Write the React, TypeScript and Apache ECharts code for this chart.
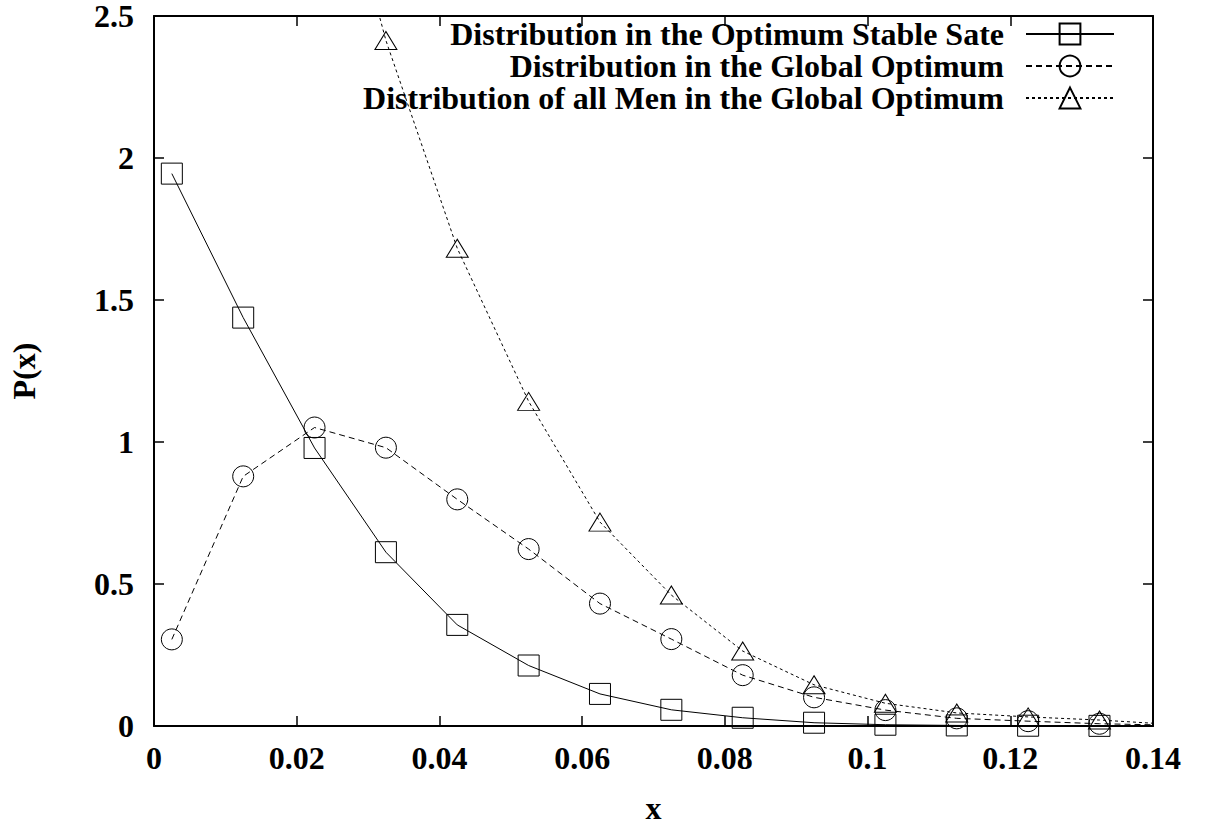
import React, { useEffect, useRef } from "react";
import * as echarts from "echarts";

// x positions of the data points (bin centres)
const xPoints = [0.0025, 0.0125, 0.0225, 0.0325, 0.0425, 0.0525, 0.0625, 0.0725, 0.0825, 0.0925, 0.1025, 0.1125, 0.1225, 0.1325, 0.1425];

const stableSate = [1.945, 1.438, 0.979, 0.612, 0.356, 0.213, 0.113, 0.057, 0.029, 0.0115, 0.0045, 0.002, 0.001, 0.0005, 0.0002];
const globalOptimum = [0.305, 0.879, 1.051, 0.98, 0.798, 0.623, 0.431, 0.306, 0.179, 0.101, 0.056, 0.027, 0.017, 0.008, 0.003];
const allMenGlobal = [null, null, 3.35, 2.414, 1.682, 1.143, 0.718, 0.461, 0.264, 0.145, 0.08, 0.046, 0.032, 0.021, 0.006];

const seriesNames = [
  "Distribution in the Optimum Stable Sate",
  "Distribution in the Global Optimum",
  "Distribution of all Men in the Global Optimum",
];

const xTicks = { min: 0, max: 0.14, interval: 0.02 };
const yTicks = { min: 0, max: 2.5, interval: 0.5 };

const FONT = "'Liberation Serif', 'Times New Roman', serif";

function pairs(vals: (number | null)[]) {
  return xPoints.map((x, i) => [x, vals[i]]);
}

export default function App() {
  const ref = useRef<HTMLDivElement>(null);
  useEffect(() => {
    if (!ref.current) return;
    const chart = echarts.init(ref.current, null, { renderer: "svg" });
    const axisLine = { show: true, onZero: false, lineStyle: { color: "#000", width: 2 } };
    const axisTick = { show: true, inside: true, length: 10, lineStyle: { color: "#000", width: 1.5 } };
    const labelStyle = { color: "#000", fontFamily: FONT, fontWeight: "bold" as const, fontSize: 32 };
    const markerStyle = { color: "rgba(255,255,255,0)", borderColor: "#000", borderWidth: 1 };
    chart.setOption({
      animation: false,
      backgroundColor: "#fff",
      grid: { left: 152.7, right: 53, top: 10, bottom: 101, containLabel: false },
      legend: {
        orient: "vertical",
        right: 86,
        top: 13,
        align: "right",
        itemGap: 0,
        itemWidth: 88,
        itemHeight: 26,
        selectedMode: false,
        textStyle: { ...labelStyle, lineHeight: 31, padding: [0, 17, 0, 0] },
        data: seriesNames,
      },
      xAxis: [
        {
          type: "value",
          ...xTicks,
          position: "bottom",
          name: "x",
          nameLocation: "middle",
          nameGap: 66,
          nameTextStyle: labelStyle,
          axisLine,
          axisTick,
          axisLabel: { ...labelStyle, margin: 16 },
          splitLine: { show: false },
        },
        {
          type: "value",
          ...xTicks,
          position: "top",
          axisLine,
          axisTick,
          axisLabel: { show: false },
          splitLine: { show: false },
        },
      ],
      yAxis: [
        {
          type: "value",
          ...yTicks,
          position: "left",
          name: "P(x)",
          nameLocation: "middle",
          nameGap: 114,
          nameTextStyle: labelStyle,
          axisLine,
          axisTick,
          axisLabel: { ...labelStyle, margin: 20 },
          splitLine: { show: false },
        },
        {
          type: "value",
          ...yTicks,
          position: "right",
          axisLine,
          axisTick,
          axisLabel: { show: false },
          splitLine: { show: false },
        },
      ],
      series: [
        {
          name: seriesNames[0],
          type: "line",
          data: pairs(stableSate),
          clip: true,
          symbol: "rect",
          symbolSize: 21,
          showAllSymbol: true,
          itemStyle: markerStyle,
          lineStyle: { color: "#000", width: 1, type: "solid" },
        },
        {
          name: seriesNames[1],
          type: "line",
          data: pairs(globalOptimum),
          clip: true,
          symbol: "circle",
          symbolSize: 21,
          showAllSymbol: true,
          itemStyle: markerStyle,
          lineStyle: { color: "#000", width: 1, type: [6, 4] },
        },
        {
          name: seriesNames[2],
          type: "line",
          data: pairs(allMenGlobal),
          clip: true,
          connectNulls: false,
          symbol: "triangle",
          symbolSize: [22, 18],
          showAllSymbol: true,
          itemStyle: markerStyle,
          lineStyle: { color: "#000", width: 1, type: [3, 3] },
        },
      ],
    });
    return () => chart.dispose();
  }, []);
  return (
    <div
      ref={ref}
      style={{ position: "fixed", left: 0, top: 0, width: 1206, height: 829, background: "#fff" }}
    />
  );
}
